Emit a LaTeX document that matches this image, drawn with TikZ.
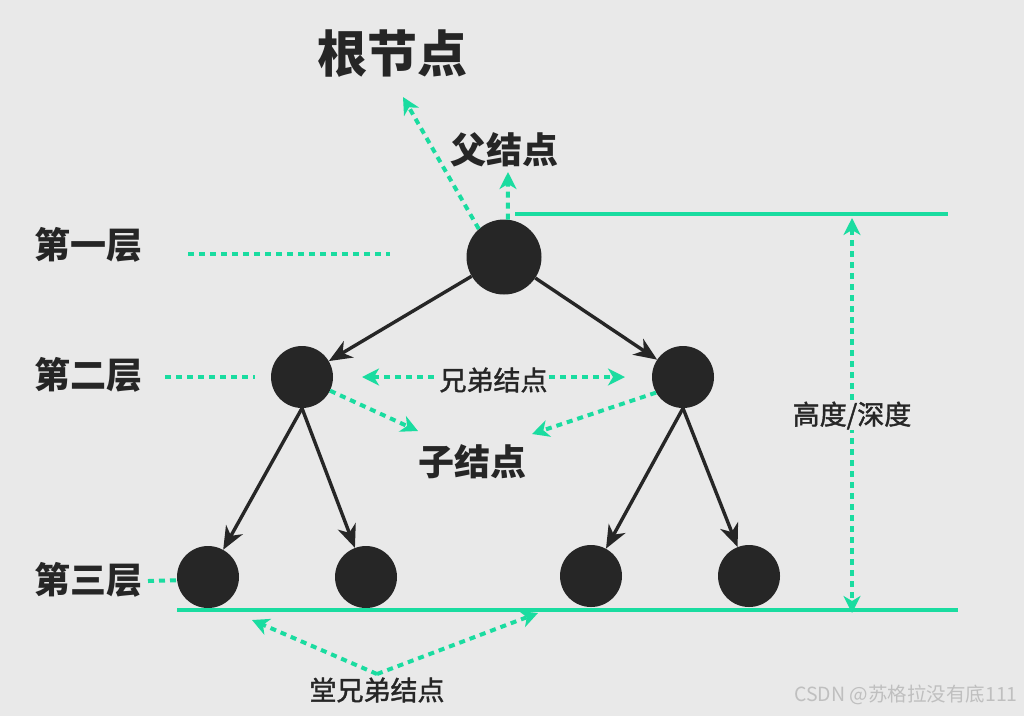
\documentclass[tikz,border=0pt]{standalone}
\usepackage{fontspec}
\setmainfont{Noto Sans CJK SC}
\newfontfamily\medfont[FakeBold=1.5]{Noto Sans CJK SC}
\usetikzlibrary{arrows.meta}
\definecolor{bg}{RGB}{233,233,233}
\definecolor{ink}{RGB}{38,38,38}
\definecolor{mint}{RGB}{26,220,160}
\tikzset{
  dot/.style={circle,fill=ink,inner sep=0pt,minimum size=62pt},
  edge/.style={draw=ink,line width=3.4pt,-{Stealth[length=23pt,width=19pt,inset=7pt]}},
  guide/.style={draw=mint,line width=4pt,dash pattern=on 6pt off 5pt},
  tip/.tip={Stealth[length=17pt,width=17pt,inset=5pt]},
  levelline/.style={draw=mint,line width=3.5pt},
  big/.style={text=ink,font=\fontsize{36}{40}\selectfont\bfseries},
  small/.style={text=ink,font=\fontsize{27}{30}\selectfont\medfont},
}
\begin{document}
\begin{tikzpicture}[x=1pt,y=-1pt,line cap=butt]
  \fill[bg] (0,0) rectangle (1024,716);
  \useasboundingbox (0,0) rectangle (1024,716);

  \coordinate (rootend) at (403,97);
  \coordinate (parend) at (508,172);
  \coordinate (g1a) at (188,254);
  \coordinate (g1b) at (390,254);
  \coordinate (g2a) at (165,377);
  \coordinate (g2b) at (255,377);
  \coordinate (g3a) at (148,581);
  \coordinate (top1) at (515,214);
  \coordinate (top2) at (948,214);
  \coordinate (bot1) at (177,610);
  \coordinate (bot2) at (958,610);
  \coordinate (h1) at (852,218);
  \coordinate (h2) at (852,613);
  \coordinate (sibL) at (362,377);
  \coordinate (sibR) at (625,377);
  \coordinate (kidL) at (418,431);
  \coordinate (kidR) at (532,434);
  \coordinate (cousL) at (252,620);
  \coordinate (cousR) at (538,613);

  % tree
  \node[dot,minimum size=75pt] (r) at (504,257) {};
  \node[dot] (a) at (302,377) {};
  \node[dot] (b) at (683,377) {};
  \node[dot] (aa) at (208,577) {};
  \node[dot] (ab) at (366,577) {};
  \node[dot] (ba) at (591,576) {};
  \node[dot] (bb) at (749,576) {};

  \draw[edge] (r) -- (a);
  \draw[edge] (r) -- (b);
  \draw[edge] (a.south) -- (aa);
  \draw[edge] (a.south) -- (ab);
  \draw[edge] (b.south) -- (ba);
  \draw[edge] (b.south) -- (bb);

  % levels
  \draw[levelline] (top1) -- (top2);
  \draw[levelline] (bot1) -- (bot2);
  \draw[guide] (g1a) -- (g1b);
  \draw[guide] (g2a) -- (g2b);
  \draw[guide] (g3a) -- (aa.186);
  \draw[guide,tip-tip] (h1) -- node[fill=bg,inner sep=1pt,small] (height) {高度/深度} (h2);

  % relations
  \draw[guide,-tip] (r.132) -- (rootend);
  \draw[guide,-tip] (r.84) -- (parend);
  \draw[guide,tip-tip] (sibL) -- node[fill=bg,inner sep=1pt,small,yshift=-3pt] (sib) {兄弟结点} (sibR);
  \draw[guide,-tip] (a.-26) -- (kidL);
  \draw[guide,-tip] (b.210) -- (kidR);

  \node[big,font=\fontsize{50}{56}\selectfont\bfseries] (root) at (392,54) {根节点};
  \node[big] (parent) at (504,150) {父结点};
  \node[big] (kid) at (472,462) {子结点};
  \node[big] (lv1) at (88,245) {第一层};
  \node[big] (lv2) at (88,375) {第二层};
  \node[big] (lv3) at (88,580) {第三层};
  \node[small] (cous) at (377,690) {堂兄弟结点};
  \draw[guide,-tip] (cous.north) -- (cousL);
  \draw[guide,-tip] (cous.north) -- (cousR);

  \node[text=black!25,font=\fontsize{19.5}{21}\selectfont] (mark) at (906,695) {CSDN @苏格拉没有底111};
\end{tikzpicture}
\end{document}
